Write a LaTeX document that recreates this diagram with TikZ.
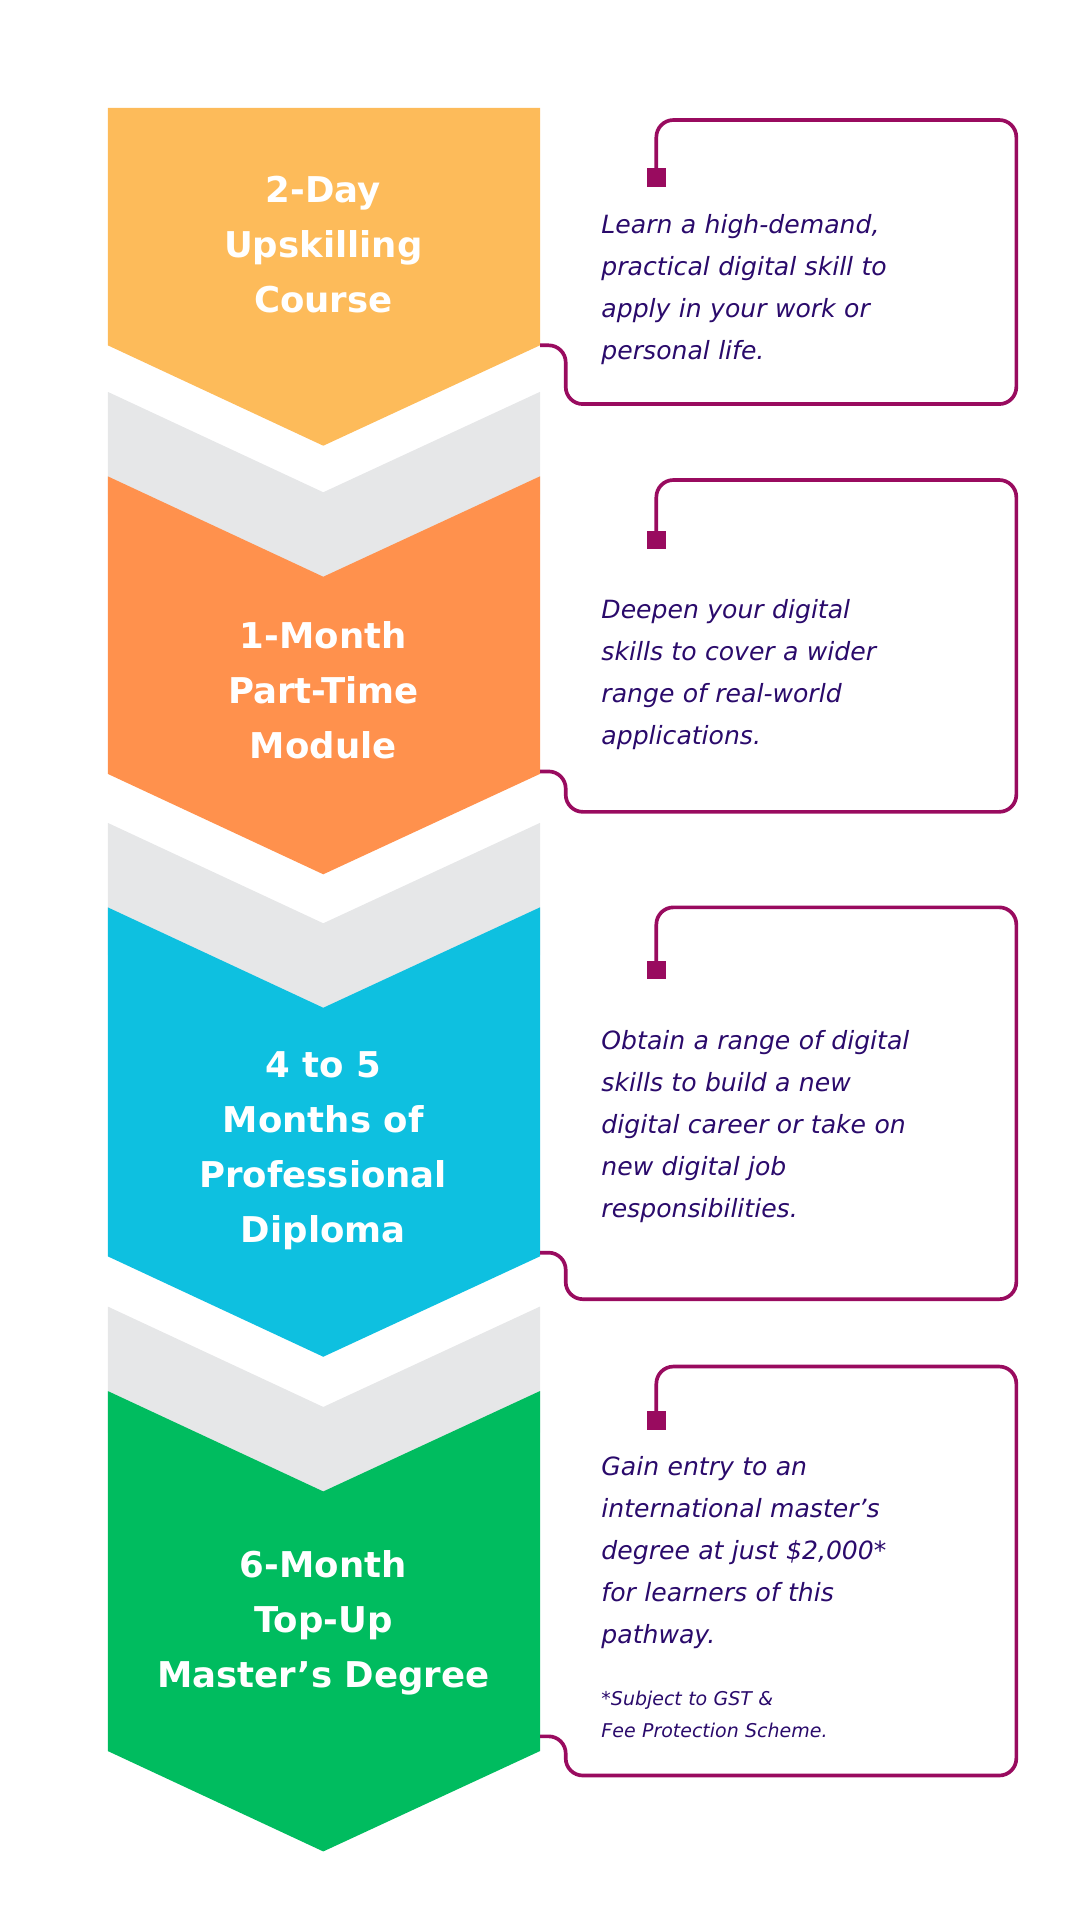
\documentclass[tikz,border=0pt]{standalone}
\usepackage{fontspec}
\setmainfont{DejaVu Sans}
\definecolor{yel}{HTML}{FDBB5A}
\definecolor{org}{HTML}{FF914D}
\definecolor{cya}{HTML}{0EC0E0}
\definecolor{grn}{HTML}{00BC5F}
\definecolor{gry}{HTML}{E6E7E8}
\definecolor{plum}{HTML}{990B5F}
\definecolor{ink}{HTML}{2A0A6B}
\tikzset{
  title/.style={text=white,font=\fontsize{29}{45}\selectfont\bfseries,align=center,inner sep=0pt},
  blurb/.style={text=ink,font=\fontsize{20.5}{34.3}\selectfont\itshape,align=left,text width=340pt,inner sep=0pt,anchor=north west},
  note/.style={text=ink,font=\fontsize{15.5}{26}\selectfont\itshape,align=left,text width=340pt,inner sep=0pt,anchor=north west},
  callout/.style={draw=plum,line width=3pt,rounded corners=14pt},
  pin/.style={fill=plum,minimum size=15pt,inner sep=0pt}
}
\begin{document}
\begin{tikzpicture}[x=1pt,y=-1pt]
\useasboundingbox (0,0) rectangle (882,1568);
% grey bands
\fill[gry] (88,320) -- (264,402) -- (441,320) -- (441,420) -- (264,500) -- (88,420) -- cycle;
\fill[gry] (88,672) -- (264,754) -- (441,672) -- (441,780) -- (264,850) -- (88,780) -- cycle;
\fill[gry] (88,1067) -- (264,1149) -- (441,1067) -- (441,1170) -- (264,1250) -- (88,1170) -- cycle;
% chevrons
\fill[yel] (88,88) -- (441,88) -- (441,282) -- (264,364) -- (88,282) -- cycle;
\fill[org] (88,389) -- (264,471) -- (441,389) -- (441,632) -- (264,714) -- (88,632) -- cycle;
\fill[cya] (88,741) -- (264,823) -- (441,741) -- (441,1026) -- (264,1108) -- (88,1026) -- cycle;
\fill[grn] (88,1136) -- (264,1218) -- (441,1136) -- (441,1430) -- (264,1512) -- (88,1430) -- cycle;

\node[title] (t1) at (264,200) {2-Day\\Upskilling\\Course};
\node[title] (t2) at (264,564) {1-Month\\Part-Time\\Module};
\node[title] (t3) at (264,940) {4 to 5\\Months of\\Professional\\Diploma};
\node[title] (t4) at (264,1325) {6-Month\\Top-Up\\Master’s Degree};

% callouts
\coordinate (c1) at (441,282);
\coordinate (c2) at (441,630);
\coordinate (c3) at (441,1023);
\coordinate (c4) at (441,1418);
\node[pin] (p1) at (536,145) {};
\node[pin] (p2) at (536,441) {};
\node[pin] (p3) at (536,792) {};
\node[pin] (p4) at (536,1160) {};
\draw[callout] (c1) -- (462,282) -- (462,330) -- (830,330) -- (830,98) -- (536,98) -- (p1.center);
\draw[callout] (c2) -- (462,630) -- (462,663) -- (830,663) -- (830,392) -- (536,392) -- (p2.center);
\draw[callout] (c3) -- (462,1023) -- (462,1061) -- (830,1061) -- (830,741) -- (536,741) -- (p3.center);
\draw[callout] (c4) -- (462,1418) -- (462,1450) -- (830,1450) -- (830,1116) -- (536,1116) -- (p4.center);

\node[blurb] (b1) at (491,175) {Learn a high-demand,\\practical digital skill to\\apply in your work or\\personal life.};
\node[blurb] (b2) at (491,489) {Deepen your digital\\skills to cover a wider\\range of real-world\\applications.};
\node[blurb] (b3) at (491,841) {Obtain a range of digital\\skills to build a new\\digital career or take on\\new digital job\\responsibilities.};
\node[blurb] (b4) at (491,1189) {Gain entry to an\\international master’s\\degree at just \$2,000*\\for learners of this\\pathway.};
\node[note] (n4) at (491,1381) {*Subject to GST \&\\Fee Protection Scheme.};
\end{tikzpicture}
\end{document}
